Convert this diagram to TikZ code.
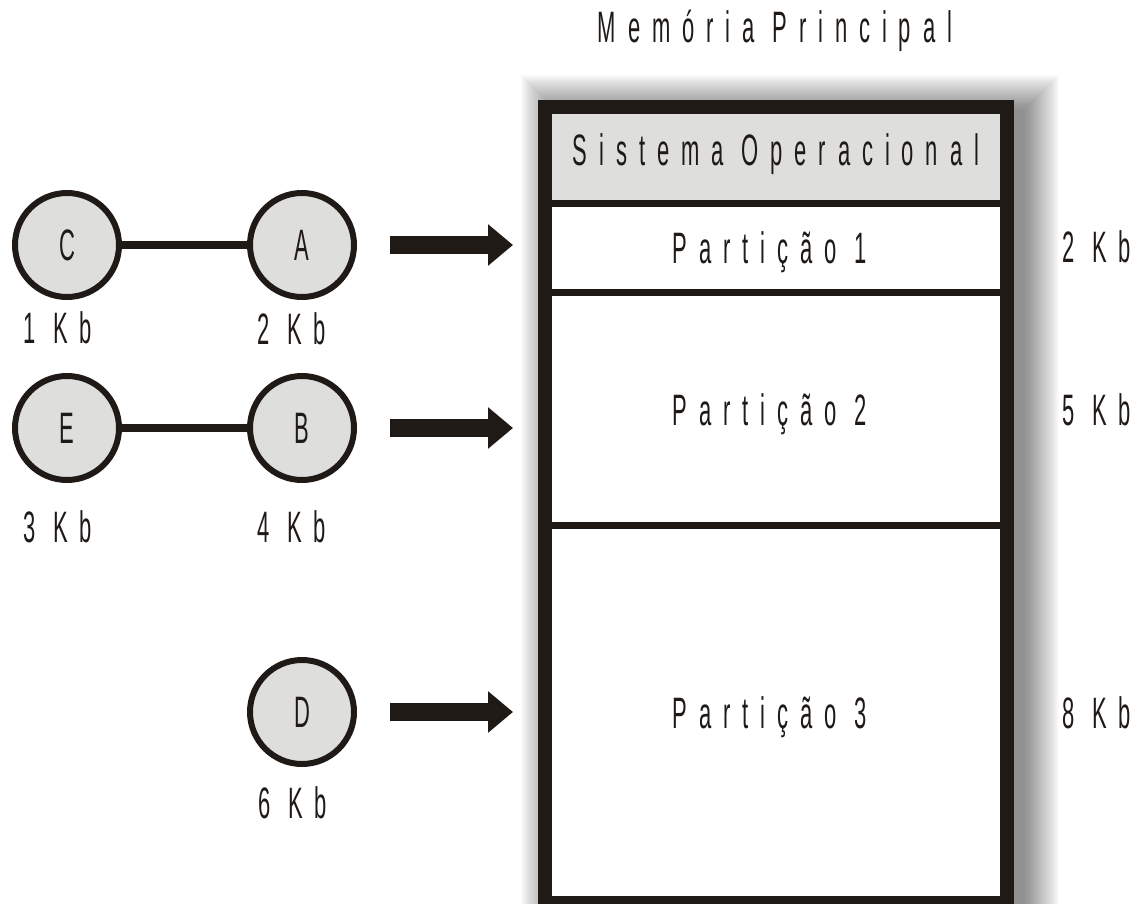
\documentclass[tikz,border=0pt]{standalone}
\usepackage{fontspec}
\setmainfont{Liberation Sans}[FakeStretch=0.5]
\newfontfamily\spfont{Liberation Sans}[FakeStretch=0.5,LetterSpace=27]
\usetikzlibrary{arrows.meta}
\definecolor{ink}{HTML}{201A17}
\definecolor{soft}{HTML}{DEDEDC}
\begin{document}
\begin{tikzpicture}[x=1pt,y=-1pt,
  proc/.style={circle, draw=ink, fill=soft, line width=6pt, minimum size=104pt, inner sep=0pt, font=\fontsize{44}{52}\selectfont, text=ink},
  link/.style={draw=ink, line width=8pt},
  bigarrow/.style={draw=ink, line width=18pt, -{Triangle[width=40pt,length=25pt]}, shorten <=33pt, shorten >=25pt},
  lbl/.style={anchor=base, inner sep=0pt, text=ink, font=\spfont\fontsize{44}{52}\selectfont},
  sepline/.style={draw=ink, line width=7pt},
  shadowlayer/.style={fill=black, fill opacity=0.015},
  memframe/.style={draw=ink, fill=white, line width=14pt, minimum width=462pt, minimum height=796pt, inner sep=0pt}
]
\useasboundingbox (0,0) rectangle (1146,904);
% soft shadow of the memory block
\foreach \k in {0,...,35}{
  \fill[shadowlayer] (556-\k,110-\k) rectangle (1024+\k,930+\k);
}
% memory frame
\node[memframe] (mem) at (776,505) {};
\fill[soft] (552,114) rectangle (1000,200);
\draw[sepline] (552,203.5) -- (1000,203.5);
\draw[sepline] (552,292.5) -- (1000,292.5);
\draw[sepline] (552,525) -- (1000,525);
% texts in memory
\node[lbl] (title) at (775,43) {Memória Principal};
\node[lbl] (so) at (776,166) {Sistema Operacional};
\node[lbl] (p1) at (770,264) {Partição 1};
\node[lbl] (p2) at (770,425) {Partição 2};
\node[lbl] (p3) at (770,728) {Partição 3};
\node[lbl, anchor=base west] (s1) at (1062,262) {2 Kb};
\node[lbl, anchor=base west] (s2) at (1062,425) {5 Kb};
\node[lbl, anchor=base west] (s3) at (1062,728) {8 Kb};
% processes
\node[proc] (C) at (67,245) {C};
\node[proc] (A) at (302,245) {A};
\node[proc] (E) at (67,428) {E};
\node[proc] (B) at (302,428) {B};
\node[proc] (D) at (302,712) {D};
\node[lbl, anchor=base west] (kc) at (23,343) {1 Kb};
\node[lbl, anchor=base west] (ka) at (257,344) {2 Kb};
\node[lbl, anchor=base west] (ke) at (23,542) {3 Kb};
\node[lbl, anchor=base west] (kb) at (257,542) {4 Kb};
\node[lbl, anchor=base west] (kd) at (258,818) {6 Kb};
% connectors
\draw[link] (C) -- (A);
\draw[link] (E) -- (B);
\draw[bigarrow] (A.east) -- (A.east -| mem.west);
\draw[bigarrow] (B.east) -- (B.east -| mem.west);
\draw[bigarrow] (D.east) -- (D.east -| mem.west);
\end{tikzpicture}
\end{document}
